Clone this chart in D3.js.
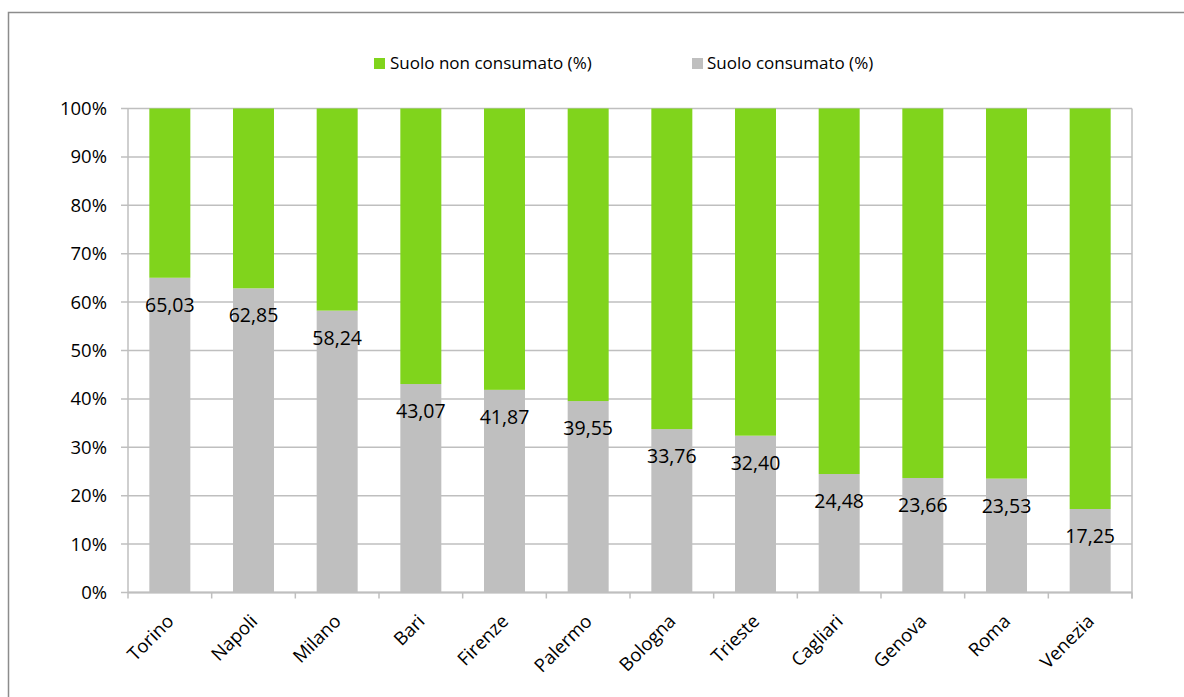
<!DOCTYPE html>
<html><head><meta charset="utf-8">
<script src="https://cdn.jsdelivr.net/npm/d3@7"></script>
<style>body{margin:0;background:#fff;} svg{display:block;font-family:"Open Sans",sans-serif;}</style>
</head><body>
<svg id="c" width="1184" height="697"></svg>
<script>
const cities = ["Torino","Napoli","Milano","Bari","Firenze","Palermo","Bologna","Trieste","Cagliari","Genova","Roma","Venezia"];
const consumato = [65.03,62.85,58.24,43.07,41.87,39.55,33.76,32.40,24.48,23.66,23.53,17.25];
const nonConsumato = consumato.map(v => 100 - v);
const yTicks = [0,10,20,30,40,50,60,70,80,90,100];
const seriesNames = ["Suolo non consumato (%)","Suolo consumato (%)"];
const colors = {green:"#80d41c", gray:"#bfbfbf"};

const svg = d3.select("#c");
// outer frame (only top/left visible in reference)
svg.append("rect").attr("x",8.5).attr("y",12.5).attr("width",1200).attr("height",720)
  .attr("fill","none").attr("stroke","#8c8c8c").attr("stroke-width",1.5);

const L=128, R=1132, T=108.5, B=592.5;
const x = d3.scaleBand().domain(cities).range([L,R]).paddingInner(0.51).paddingOuter(0.255);
const y = d3.scaleLinear().domain([0,100]).range([B,T]);

// gridlines
svg.append("g").selectAll("line").data(yTicks).join("line")
  .attr("x1",L-7).attr("x2",R).attr("y1",d=>y(d)).attr("y2",d=>y(d))
  .attr("stroke","#bfbfbf").attr("stroke-width",1.5);

// y tick labels
svg.append("g").selectAll("text").data(yTicks).join("text")
  .attr("x",107).attr("y",d=>y(d)).attr("dy","0.35em").attr("text-anchor","end")
  .attr("font-size",18.5).attr("fill","#000").text(d=>d+"%");

// bars
const data = cities.map((c,i)=>({c, a:consumato[i], b:nonConsumato[i]}));
svg.append("g").selectAll("rect").data(data).join("rect")
  .attr("x",d=>x(d.c)).attr("width",x.bandwidth())
  .attr("y",d=>y(d.a)).attr("height",d=>B-y(d.a)).attr("fill",colors.gray);
svg.append("g").selectAll("rect").data(data).join("rect")
  .attr("x",d=>x(d.c)).attr("width",x.bandwidth())
  .attr("y",d=>y(d.a+d.b)).attr("height",d=>y(d.a)-y(d.a+d.b)).attr("fill",colors.green);

// axes lines
svg.append("line").attr("x1",L).attr("x2",L).attr("y1",T).attr("y2",B).attr("stroke","#bfbfbf").attr("stroke-width",1.5);
svg.append("line").attr("x1",R).attr("x2",R).attr("y1",T).attr("y2",B+6).attr("stroke","#bfbfbf").attr("stroke-width",1.5);
svg.append("line").attr("x1",L).attr("x2",R).attr("y1",B).attr("y2",B).attr("stroke","#bfbfbf").attr("stroke-width",2);
const step = (R-L)/cities.length;
svg.append("g").selectAll("line").data(d3.range(cities.length+1)).join("line")
  .attr("x1",i=>L+i*step).attr("x2",i=>L+i*step).attr("y1",B).attr("y2",B+6)
  .attr("stroke","#bfbfbf").attr("stroke-width",1.5);

// data labels
svg.append("g").selectAll("text").data(data).join("text")
  .attr("x",d=>x(d.c)+x.bandwidth()/2).attr("y",d=>y(d.a)+34)
  .attr("text-anchor","middle").attr("font-size",19.5).attr("fill","#000")
  .text(d=>d3.format(".2f")(d.a).replace(".",","));

// x labels
svg.append("g").selectAll("text").data(cities).join("text")
  .attr("transform",d=>`translate(${x(d)+x.bandwidth()/2+5},${B+30}) rotate(-45)`)
  .attr("text-anchor","end").attr("font-size",18.5).attr("fill","#000").text(d=>d);

// legend
const leg = [{n:seriesNames[0],c:colors.green,x:374,tx:390},{n:seriesNames[1],c:colors.gray,x:692,tx:707}];
const lg = svg.append("g");
lg.selectAll("rect").data(leg).join("rect").attr("x",d=>d.x).attr("y",58).attr("width",11).attr("height",11).attr("fill",d=>d.c);
lg.selectAll("text").data(leg).join("text").attr("x",d=>d.tx).attr("y",63.5).attr("dy","0.35em")
  .attr("font-size",17).attr("fill","#000").text(d=>d.n);
</script>
</body></html>
